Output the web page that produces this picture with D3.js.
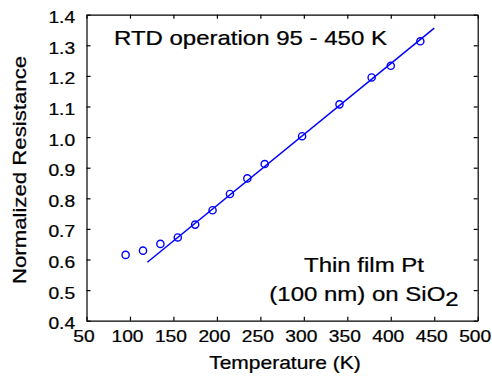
<!DOCTYPE html>
<html>
<head>
<meta charset="utf-8">
<script src="https://cdn.jsdelivr.net/npm/d3@7"></script>
<style>
  body { margin: 0; background: #fff; }
  text { font-family: "Liberation Sans", Arial, sans-serif; fill: #000; stroke: #000; stroke-width: 0.25px; }
</style>
</head>
<body>
<div id="chart"></div>
<script>
// measured points (temperature in K, normalized resistance)
var temps = [95, 115, 135, 155, 175, 195, 215, 235, 255, 298, 341, 378, 400, 434];
var resist = [0.615, 0.629, 0.651, 0.672, 0.714, 0.761, 0.814, 0.865, 0.912, 1.003, 1.107, 1.195, 1.233, 1.313];

// linear fit line end points
var fitT = [120, 450];
var fitR = [0.591, 1.356];

var xTicks = [50, 100, 150, 200, 250, 300, 350, 400, 450, 500];
var yTicks = [0.4, 0.5, 0.6, 0.7, 0.8, 0.9, 1.0, 1.1, 1.2, 1.3, 1.4];

var margin = {top: 14.7, right: 14.3, bottom: 56.3, left: 86.5},
    width = 492 - margin.left - margin.right,
    height = 377 - margin.top - margin.bottom;

var stretch = "scale(1.2,1)";  // the original font runs wider than Arial

var svg = d3.select("#chart")
  .append("svg")
    .attr("width", 492)
    .attr("height", 377)
  .append("g")
    .attr("transform", "translate(" + margin.left + "," + margin.top + ")");

var x = d3.scaleLinear().domain([50, 500]).range([0, width]);
var y = d3.scaleLinear().domain([0.4, 1.4]).range([height, 0]);

// axes, ticks pointing inward on all four sides
var xAxis = svg.append("g")
  .attr("transform", "translate(0," + height + ")")
  .call(d3.axisBottom(x).tickValues(xTicks).tickFormat(d3.format("d"))
    .tickSizeInner(-4).tickSizeOuter(0).tickPadding(10));
svg.append("g")
  .call(d3.axisTop(x).tickValues(xTicks).tickFormat("")
    .tickSizeInner(-4).tickSizeOuter(0));
var yAxis = svg.append("g")
  .call(d3.axisLeft(y).tickValues(yTicks).tickFormat(d3.format(".1f"))
    .tickSizeInner(-4).tickSizeOuter(0).tickPadding(9.5));
svg.append("g")
  .attr("transform", "translate(" + width + ",0)")
  .call(d3.axisRight(y).tickValues(yTicks).tickFormat("")
    .tickSizeInner(-4).tickSizeOuter(0));

svg.selectAll(".domain").attr("stroke", "#000").attr("stroke-width", 1.2);
svg.selectAll(".tick line").attr("stroke", "#000").attr("stroke-width", 1.2);
svg.selectAll(".tick text")
  .style("font-size", "16px")
  .style("font-family", "'Liberation Sans', Arial, sans-serif")
  .attr("fill", "#000");
// bottom labels sit a little left of their ticks in the original
xAxis.selectAll(".tick text").attr("transform", "translate(-3,0) " + stretch);
yAxis.selectAll(".tick text").attr("transform", stretch).attr("dy", "0.5em");

// fit line
var line = d3.line()
  .x(function(d) { return x(d[0]); })
  .y(function(d) { return y(d[1]); });
svg.append("path")
  .datum(fitT.map(function(t, i) { return [t, fitR[i]]; }))
  .attr("d", line)
  .attr("fill", "none")
  .attr("stroke", "#0000ff")
  .attr("stroke-width", 1.5);

// data markers
svg.selectAll("circle.pt")
  .data(temps.map(function(t, i) { return [t, resist[i]]; }))
  .enter()
  .append("circle")
    .attr("class", "pt")
    .attr("cx", function(d) { return x(d[0]); })
    .attr("cy", function(d) { return y(d[1]); })
    .attr("r", 3.6)
    .attr("fill", "none")
    .attr("stroke", "#0000ff")
    .attr("stroke-width", 1.4);

// axis titles
svg.append("text")
  .attr("transform", "translate(" + (285 - margin.left) + "," + (369 - margin.top) + ") " + stretch)
  .style("text-anchor", "middle")
  .style("font-size", "17.5px")
  .text("Temperature (K)");
svg.append("text")
  .attr("transform", "translate(" + (26 - margin.left) + "," + (170 - margin.top) + ") rotate(-90) " + stretch)
  .style("text-anchor", "middle")
  .style("font-size", "18.5px")
  .text("Normalized Resistance");

// annotations
svg.append("text")
  .attr("transform", "translate(" + (114 - margin.left) + "," + (45 - margin.top) + ") " + stretch)
  .style("font-size", "20px")
  .text("RTD operation 95 - 450 K");

svg.append("text")
  .attr("transform", "translate(" + (364 - margin.left) + "," + (272 - margin.top) + ") " + stretch)
  .style("text-anchor", "middle")
  .style("font-size", "20px")
  .text("Thin film Pt");
var t2 = svg.append("text")
  .attr("transform", "translate(" + (364 - margin.left) + "," + (301 - margin.top) + ") " + stretch)
  .style("text-anchor", "middle")
  .style("font-size", "20px");
t2.append("tspan").text("(100 nm) on SiO");
t2.append("tspan").attr("dy", 5).text("2");
</script>
</body>
</html>
